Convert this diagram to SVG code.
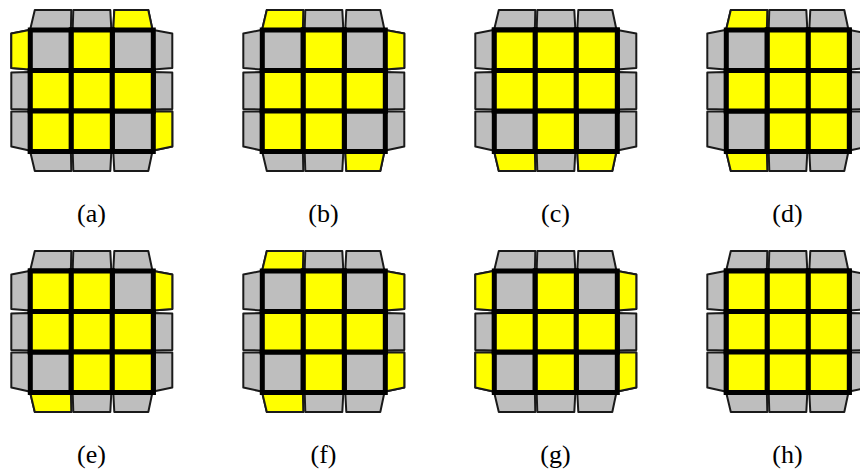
<svg xmlns="http://www.w3.org/2000/svg" width="860" height="471" viewBox="0 0 860 471">
<style>
.s{stroke:#1a1a1a;stroke-width:2;stroke-linejoin:round}
.c{stroke:#000;stroke-width:5;stroke-linejoin:miter}
.y{fill:#ffff00}
.g{fill:#bebebe}
text{font-family:"Liberation Serif","Times New Roman",serif;font-size:26px;fill:#000;text-anchor:middle}
</style>
<defs>
<polygon id="t1" class="s" points="0,-1 4.5,-20 41,-20 40.6,-1"/>
<polygon id="t2" class="s" points="42.4,-1 43,-20 80,-20 81,-1"/>
<polygon id="t3" class="s" points="83,-1 84,-20 118,-20 122,-1"/>
<polygon id="b1" class="s" points="0,122 4.5,141 41,141 40.6,122"/>
<polygon id="b2" class="s" points="42.4,122 43,141 80,141 81,122"/>
<polygon id="b3" class="s" points="83,122 84,141 118,141 122,122"/>
<polygon id="l1" class="s" points="-1,0 -19,3.5 -19,38 -1,39.5"/>
<polygon id="l2" class="s" points="-1,42 -19,42.5 -19,79 -1,79.5"/>
<polygon id="l3" class="s" points="-1,81.5 -19,81.5 -19,116.5 -1,120.5"/>
<polygon id="r1" class="s" points="123,0 142,3.5 142,38 123,39.5"/>
<polygon id="r2" class="s" points="123,42 142,42.5 142,79 123,79.5"/>
<polygon id="r3" class="s" points="123,81.5 142,81.5 142,116.5 123,120.5"/>
<rect id="c1" class="c" x="0" y="0" width="41" height="40.5"/>
<rect id="c2" class="c" x="41" y="0" width="41" height="40.5"/>
<rect id="c3" class="c" x="82" y="0" width="41" height="40.5"/>
<rect id="c4" class="c" x="0" y="40.5" width="41" height="40.5"/>
<rect id="c5" class="c" x="41" y="40.5" width="41" height="40.5"/>
<rect id="c6" class="c" x="82" y="40.5" width="41" height="40.5"/>
<rect id="c7" class="c" x="0" y="81" width="41" height="40.5"/>
<rect id="c8" class="c" x="41" y="81" width="41" height="40.5"/>
<rect id="c9" class="c" x="82" y="81" width="41" height="40.5"/>
<g id="edges" class="g"><use href="#t1"/><use href="#t2"/><use href="#t3"/><use href="#b1"/><use href="#b2"/><use href="#b3"/><use href="#l1"/><use href="#l2"/><use href="#l3"/><use href="#r1"/><use href="#r2"/><use href="#r3"/></g>
<g id="face" class="g"><use href="#c1"/><use href="#c2"/><use href="#c3"/><use href="#c4"/><use href="#c5"/><use href="#c6"/><use href="#c7"/><use href="#c8"/><use href="#c9"/></g>
</defs>
<g id="a" transform="translate(30.3,30)"><use href="#edges"/><g class="y"><use href="#t3"/><use href="#l1"/><use href="#r3"/></g><use href="#face"/><g class="y"><use href="#c2"/><use href="#c4"/><use href="#c5"/><use href="#c6"/><use href="#c7"/><use href="#c8"/></g></g>
<g id="b" transform="translate(262.3,30)"><use href="#edges"/><g class="y"><use href="#t1"/><use href="#r1"/><use href="#b3"/></g><use href="#face"/><g class="y"><use href="#c2"/><use href="#c4"/><use href="#c5"/><use href="#c6"/><use href="#c7"/><use href="#c8"/></g></g>
<g id="c" transform="translate(494.3,30)"><use href="#edges"/><g class="y"><use href="#b1"/><use href="#b3"/></g><use href="#face"/><g class="y"><use href="#c1"/><use href="#c2"/><use href="#c3"/><use href="#c4"/><use href="#c5"/><use href="#c6"/><use href="#c8"/></g></g>
<g id="d" transform="translate(726.3,30)"><use href="#edges"/><g class="y"><use href="#t1"/><use href="#b1"/></g><use href="#face"/><g class="y"><use href="#c2"/><use href="#c3"/><use href="#c4"/><use href="#c5"/><use href="#c6"/><use href="#c8"/><use href="#c9"/></g></g>
<g id="e" transform="translate(30.3,271)"><use href="#edges"/><g class="y"><use href="#r1"/><use href="#b1"/></g><use href="#face"/><g class="y"><use href="#c1"/><use href="#c2"/><use href="#c4"/><use href="#c5"/><use href="#c6"/><use href="#c8"/><use href="#c9"/></g></g>
<g id="f" transform="translate(262.3,271)"><use href="#edges"/><g class="y"><use href="#t1"/><use href="#r1"/><use href="#r3"/><use href="#b1"/></g><use href="#face"/><g class="y"><use href="#c2"/><use href="#c4"/><use href="#c5"/><use href="#c6"/><use href="#c8"/></g></g>
<g id="g" transform="translate(494.3,271)"><use href="#edges"/><g class="y"><use href="#l1"/><use href="#l3"/><use href="#r1"/><use href="#r3"/></g><use href="#face"/><g class="y"><use href="#c2"/><use href="#c4"/><use href="#c5"/><use href="#c6"/><use href="#c8"/></g></g>
<g id="h" transform="translate(726.3,271)"><use href="#edges"/><use href="#face"/><g class="y"><use href="#c1"/><use href="#c2"/><use href="#c3"/><use href="#c4"/><use href="#c5"/><use href="#c6"/><use href="#c7"/><use href="#c8"/><use href="#c9"/></g></g>
<g id="labels">
<text x="91.5" y="222">(a)</text><text x="323.5" y="222">(b)</text><text x="555.5" y="222">(c)</text><text x="787.5" y="222">(d)</text>
<text x="91.5" y="463">(e)</text><text x="323.5" y="463">(f)</text><text x="555.5" y="463">(g)</text><text x="787.5" y="463">(h)</text>
</g>
<g id="connectors"/>
</svg>
